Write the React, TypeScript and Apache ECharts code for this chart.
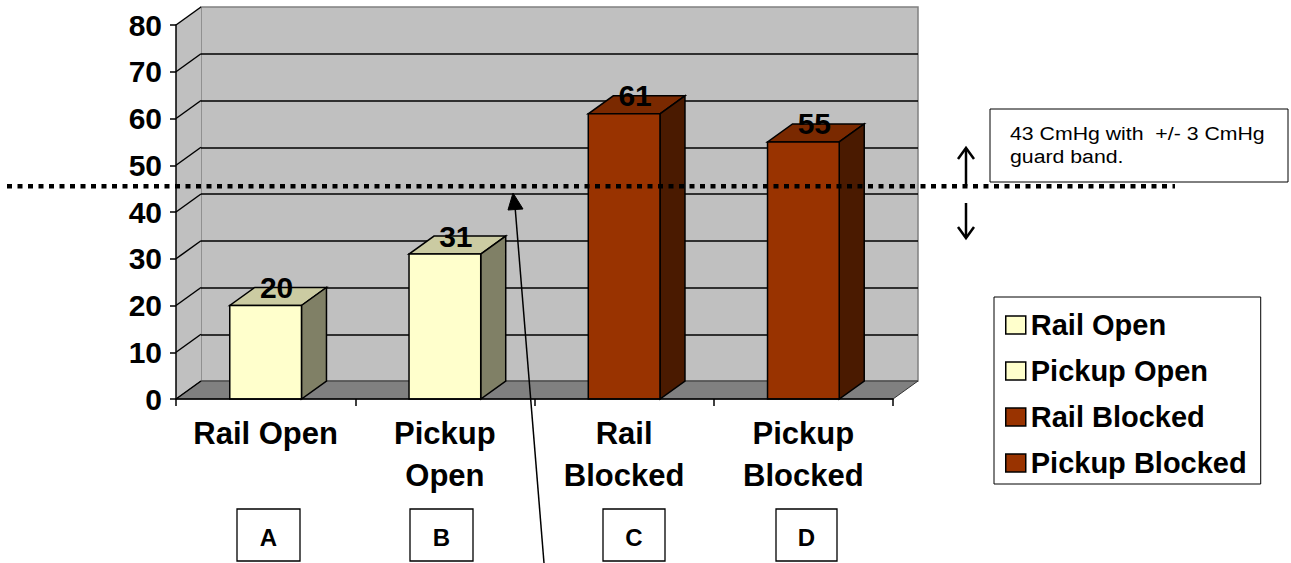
import { useEffect, useRef } from "react";
import * as echarts from "echarts";

// ---- data ----
const categories = ["Rail Open", "Pickup\nOpen", "Rail\nBlocked", "Pickup\nBlocked"];
const seriesNames = ["Rail Open", "Pickup Open", "Rail Blocked", "Pickup Blocked"];
const values = [20, 31, 61, 55];
const yMin = 0;
const yMax = 80;
const yInterval = 10;
const threshold = 43;
const guardBand = 3;
const boxLetters = ["A", "B", "C", "D"];

// ---- styles ----
const FONT = "Arial, 'Liberation Sans', Helvetica, sans-serif";
const OPEN = { front: "#FFFFCC", top: "#CBCBA2", side: "#808066" };
const BLOCKED = { front: "#993300", top: "#7A2900", side: "#4A1A00" };
const seriesColors = [OPEN, OPEN, BLOCKED, BLOCKED];

// front plane of the plot and the depth offset of the 3D box
const FRONT = { left: 176, top: 25, width: 717, height: 374 };
const DX = 25;
const DY = -18;
const BAR_RATIO = 0.4;

export default function App() {
  const ref = useRef<HTMLDivElement>(null);

  useEffect(() => {
    document.body.style.margin = "0";
    const chart = echarts.init(ref.current!, null, { renderer: "svg" });

    const barSeries = seriesNames.map((name, i) => ({
      name,
      type: "custom",
      xAxisIndex: 0,
      yAxisIndex: 0,
      z: 4,
      itemStyle: { color: seriesColors[i].front },
      encode: { x: 0, y: 1 },
      data: [[i, values[i]]],
      renderItem: (params: any, api: any) => {
        const cat = api.value(0);
        const v = api.value(1);
        const top = api.coord([cat, v]);
        const base = api.coord([cat, 0]);
        const band = api.size([1, 0])[0];
        const w = band * BAR_RATIO;
        const x0 = top[0] - w / 2;
        const x1 = top[0] + w / 2;
        const yt = top[1];
        const yb = base[1];
        const c = seriesColors[i];
        const stroke = { stroke: "#000", lineWidth: 1.5 };
        return {
          type: "group",
          children: [
            {
              type: "polygon",
              shape: { points: [[x0, yt], [x1, yt], [x1 + DX, yt + DY], [x0 + DX, yt + DY]] },
              style: { fill: c.top, ...stroke },
            },
            {
              type: "polygon",
              shape: { points: [[x1, yt], [x1 + DX, yt + DY], [x1 + DX, yb + DY], [x1, yb]] },
              style: { fill: c.side, ...stroke },
            },
            {
              type: "rect",
              shape: { x: x0, y: yt, width: w, height: yb - yt },
              style: { fill: c.front, ...stroke },
            },
            {
              type: "text",
              x: top[0] + 11,
              y: yt - 18,
              style: {
                text: String(v),
                fill: "#000",
                fontSize: 30,
                fontWeight: "bold",
                fontFamily: FONT,
                align: "center",
                verticalAlign: "middle",
              },
            },
          ],
        };
      },
    }));

    const ticks: number[] = [];
    for (let t = yMin; t <= yMax; t += yInterval) ticks.push(t);

    const wallSeries = {
      name: "__walls",
      type: "custom",
      xAxisIndex: 0,
      yAxisIndex: 0,
      z: 1,
      silent: true,
      data: [[0, 0]],
      renderItem: (params: any, api: any) => {
        const cs = params.coordSys;
        const x0 = cs.x;
        const x1 = cs.x + cs.width;
        const yTop = cs.y;
        const yBot = cs.y + cs.height;
        const children: any[] = [
          {
            type: "polygon",
            shape: { points: [[x0, yTop], [x0 + DX, yTop + DY], [x0 + DX, yBot + DY], [x0, yBot]] },
            style: { fill: "#C0C0C0", stroke: null },
          },
          {
            type: "polygon",
            shape: { points: [[x0, yBot], [x1, yBot], [x1 + DX, yBot + DY], [x0 + DX, yBot + DY]] },
            style: { fill: "#808080", stroke: "#333", lineWidth: 1 },
          },
        ];
        ticks.forEach((t) => {
          const y = api.coord([0, t])[1];
          children.push({
            type: "line",
            shape: { x1: x0, y1: y, x2: x0 + DX, y2: y + DY },
            style: { stroke: "#000", lineWidth: 1.5 },
          });
        });
        return { type: "group", children };
      },
    };

    chart.setOption({
      animation: false,
      backgroundColor: "#fff",
      grid: [
        { ...FRONT, show: false },
        {
          left: FRONT.left + DX,
          top: FRONT.top + DY,
          width: FRONT.width,
          height: FRONT.height,
          show: true,
          backgroundColor: "#C0C0C0",
          borderColor: "#808080",
          borderWidth: 1.5,
          z: 0,
        },
      ],
      xAxis: [
        {
          type: "category",
          gridIndex: 0,
          data: categories,
          boundaryGap: true,
          axisLine: { lineStyle: { color: "#000", width: 1.5 } },
          axisTick: { show: true, length: 7, interval: 0, lineStyle: { color: "#000", width: 1.5 } },
          axisLabel: {
            interval: 0,
            margin: 13,
            color: "#000",
            fontSize: 31,
            fontWeight: "bold",
            fontFamily: FONT,
            lineHeight: 42,
          },
          z: 5,
        },
        { type: "category", gridIndex: 1, data: categories, show: false },
      ],
      yAxis: [
        {
          type: "value",
          gridIndex: 0,
          min: yMin,
          max: yMax,
          interval: yInterval,
          axisLine: { show: true, lineStyle: { color: "#000", width: 1.5 } },
          axisTick: { show: true, length: 6, lineStyle: { color: "#000", width: 1.5 } },
          axisLabel: { margin: 14, color: "#000", fontSize: 30, fontWeight: "bold", fontFamily: FONT },
          splitLine: { show: false },
          z: 5,
        },
        {
          type: "value",
          gridIndex: 1,
          min: yMin,
          max: yMax,
          interval: yInterval,
          axisLine: { show: false },
          axisTick: { show: false },
          axisLabel: { show: false },
          splitLine: {
            show: true,
            showMinLine: false,
            showMaxLine: false,
            lineStyle: { color: "#000", width: 1.5 },
          },
        },
      ],
      legend: {
        data: seriesNames,
        orient: "vertical",
        left: 994,
        top: 297,
        padding: [12, 14, 5, 11],
        itemWidth: 20,
        itemHeight: 18,
        itemGap: 14,
        icon: "rect",
        backgroundColor: "#fff",
        borderColor: "#000",
        borderWidth: 1,
        itemStyle: { borderColor: "#000", borderWidth: 1.5 },
        selectedMode: false,
        textStyle: { color: "#000", fontSize: 29, fontWeight: "bold", fontFamily: FONT, lineHeight: 32 },
      },
      series: [wallSeries, ...barSeries],
    });

    const yFront = chart.convertToPixel({ yAxisIndex: 0 }, threshold) as number;
    const yLine = yFront + DY * 0.65;

    const arrowX = 966;
    const boxes = [
      { x: 237, w: 63 },
      { x: 410, w: 63 },
      { x: 603, w: 62 },
      { x: 776, w: 61 },
    ];

    const graphic: any[] = [
      {
        type: "line",
        z: 50,
        shape: { x1: 7, y1: yLine, x2: 1175, y2: yLine },
        style: { stroke: "#000", lineWidth: 4.5, lineDash: [5, 5.5] },
      },
      // up arrow
      {
        type: "line",
        z: 50,
        shape: { x1: arrowX, y1: yLine, x2: arrowX, y2: 149 },
        style: { stroke: "#000", lineWidth: 2.5 },
      },
      {
        type: "polyline",
        z: 50,
        shape: { points: [[arrowX - 8, 159], [arrowX, 148], [arrowX + 8, 159]] },
        style: { stroke: "#000", lineWidth: 2.5, fill: null },
      },
      // down arrow
      {
        type: "line",
        z: 50,
        shape: { x1: arrowX, y1: 203, x2: arrowX, y2: 237 },
        style: { stroke: "#000", lineWidth: 2.5 },
      },
      {
        type: "polyline",
        z: 50,
        shape: { points: [[arrowX - 8, 227], [arrowX, 238], [arrowX + 8, 227]] },
        style: { stroke: "#000", lineWidth: 2.5, fill: null },
      },
      // annotation box
      {
        type: "rect",
        z: 50,
        shape: { x: 990, y: 109, width: 298, height: 73 },
        style: { fill: "#fff", stroke: "#000", lineWidth: 1 },
      },
      {
        type: "text",
        z: 51,
        x: 1010,
        y: 122,
        scaleX: 1.12,
        style: {
          text: `${threshold} CmHg with  +/- ${guardBand} CmHg\nguard band.`,
          fill: "#000",
          fontSize: 19,
          fontFamily: FONT,
          lineHeight: 23,
          align: "left",
          verticalAlign: "top",
        },
      },
      // long pointer arrow
      {
        type: "line",
        z: 50,
        shape: { x1: 544, y1: 563, x2: 515, y2: 206 },
        style: { stroke: "#000", lineWidth: 1.5 },
      },
      {
        type: "polygon",
        z: 50,
        shape: { points: [[513, 193], [508, 210], [523, 209]] },
        style: { fill: "#000", stroke: "#000", lineWidth: 1 },
      },
    ];

    boxes.forEach((b, i) => {
      graphic.push({
        type: "rect",
        z: 50,
        shape: { x: b.x, y: 509, width: b.w, height: 52 },
        style: { fill: "#fff", stroke: "#000", lineWidth: 1.3 },
      });
      graphic.push({
        type: "text",
        z: 51,
        x: b.x + b.w / 2,
        y: 537,
        style: {
          text: boxLetters[i],
          fill: "#000",
          fontSize: 24,
          fontWeight: "bold",
          fontFamily: FONT,
          align: "center",
          verticalAlign: "middle",
        },
      });
    });

    chart.setOption({ graphic });

    return () => chart.dispose();
  }, []);

  return <div ref={ref} style={{ width: 1291, height: 563 }} />;
}
